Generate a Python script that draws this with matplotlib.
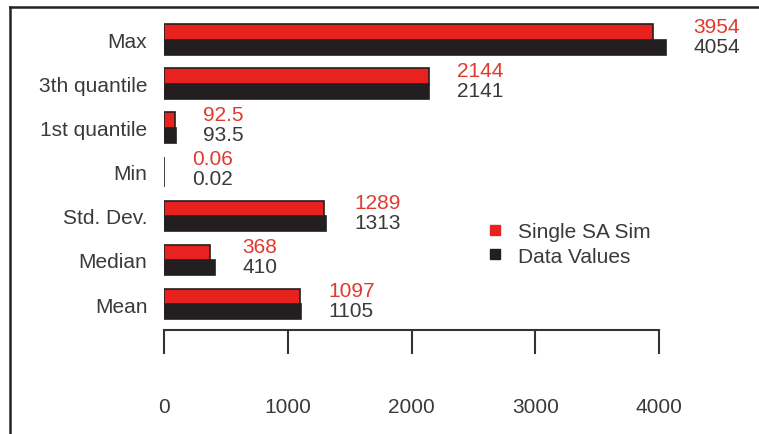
import matplotlib.pyplot as plt
from matplotlib.lines import Line2D
import numpy as np

categories = ["Mean", "Median", "Std. Dev.", "Min", "1st quantile", "3th quantile", "Max"]
sim_vals = [1097, 368, 1289, 0.06, 92.5, 2144, 3954]
data_vals = [1105, 410, 1313, 0.02, 93.5, 2141, 4054]
sim_labels = ["1097", "368", "1289", "0.06", "92.5", "2144", "3954"]
data_labels = ["1105", "410", "1313", "0.02", "93.5", "2141", "4054"]
xticks = [0, 1000, 2000, 3000, 4000]

red = "#e8231f"
dark = "#231f20"
txt = "#3a3a3a"

plt.rcParams['font.family'] = ['Liberation Sans', 'DejaVu Sans']

W, H = 759, 435
fig = plt.figure(figsize=(W / 100, H / 100), dpi=100)
ax = fig.add_axes([164 / W, (H - 331) / H, 594 / W, 321 / H])

y = np.arange(len(categories))
h = 0.35
ax.barh(y + h / 2, sim_vals, height=h, color=red, edgecolor=dark, lw=1.2, zorder=3)
ax.barh(y - h / 2, data_vals, height=h, color=dark, edgecolor=dark, lw=1.2, zorder=2)

for i in range(len(categories)):
    xe = max(sim_vals[i], data_vals[i])
    ax.annotate(sim_labels[i], (xe, y[i] + 0.30), xytext=(20, 0), textcoords="offset points",
                color="#e03a2e", fontsize=15, va="center", ha="left")
    ax.annotate(data_labels[i], (xe, y[i] - 0.15), xytext=(20, 0), textcoords="offset points",
                color=txt, fontsize=15, va="center", ha="left")

ax.set_xlim(0, 4800)
ax.set_ylim(-0.59, 6.70)
ax.set_yticks(y)
ax.set_yticklabels(categories, fontsize=15, color=txt)
ax.set_xticks(xticks)
ax.set_xticklabels([str(t) for t in xticks], fontsize=15, color=txt)
ax.tick_params(axis="y", length=0, pad=12)
ax.tick_params(axis="x", direction="out", length=17, width=1.5, color="#333333", pad=31)

for s in ["top", "right", "left"]:
    ax.spines[s].set_visible(False)
ax.spines["bottom"].set_bounds(0, 4000)
ax.spines["bottom"].set_linewidth(1.5)
ax.spines["bottom"].set_color("#333333")

handles = [Line2D([], [], marker="s", ls="None", color=red, markersize=7),
           Line2D([], [], marker="s", ls="None", color=dark, markersize=7)]
fig.legend(handles, ["Single SA Sim", "Data Values"], loc="upper left",
           bbox_to_anchor=(474 / W, 1 - 213 / H), frameon=False, fontsize=15,
           handlelength=1.0, handletextpad=0.6, labelspacing=0.25, borderpad=0,
           labelcolor=txt)

# outer frame (only left and top edges visible)
fig.add_artist(Line2D([10 / W, 10 / W], [0, 1 - 8 / H], color="#222222", lw=1.8))
fig.add_artist(Line2D([10 / W, 1], [1 - 8 / H, 1 - 8 / H], color="#222222", lw=1.8))

fig.savefig("out.png", dpi=100)
